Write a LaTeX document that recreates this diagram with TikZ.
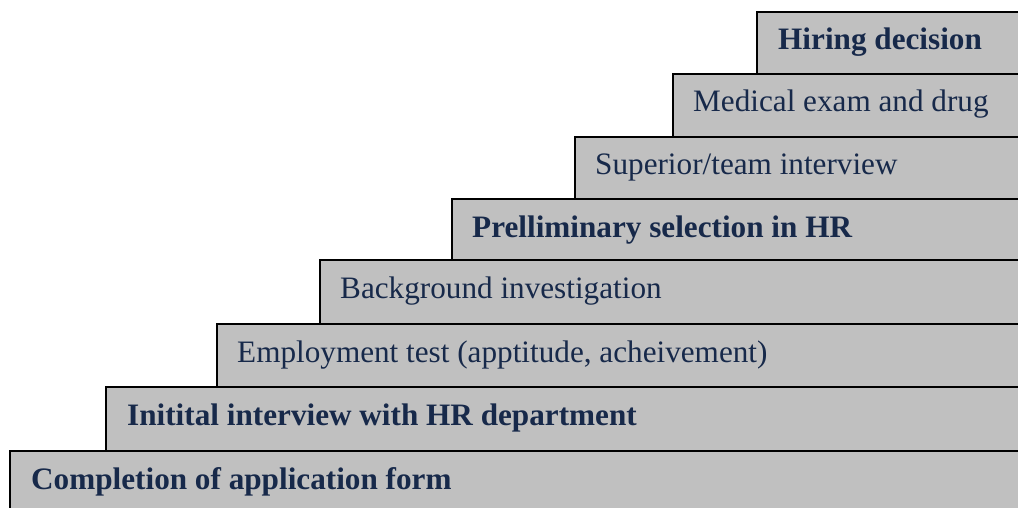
\documentclass[tikz,border=0pt]{standalone}
\usepackage{fontspec}
\setmainfont{Liberation Serif}
\definecolor{stepgray}{HTML}{C0C0C0}
\definecolor{navy}{HTML}{17294A}
\begin{document}
\begin{tikzpicture}[x=1pt,y=-1pt,
  stepbox/.style={draw=black,line width=1.5pt,fill=stepgray},
  steplabel/.style={anchor=base west,inner sep=0pt,text=navy,font=\fontsize{31.2}{36}\selectfont},
  boldlabel/.style={anchor=base west,inner sep=0pt,text=navy,font=\fontsize{31.2}{36}\selectfont\bfseries}]
\useasboundingbox (0,0) rectangle (1018,508);
\clip (0,0) rectangle (1018,508);
% boxes (left, top) to (beyond right edge, next top)
\draw[stepbox] (10,451) rectangle (1040,540);
\draw[stepbox] (106,387) rectangle (1040,451);
\draw[stepbox] (217,324) rectangle (1040,387);
\draw[stepbox] (320,260) rectangle (1040,324);
\draw[stepbox] (452,199) rectangle (1040,260);
\draw[stepbox] (575,137) rectangle (1040,199);
\draw[stepbox] (673,74) rectangle (1040,137);
\draw[stepbox] (757,12) rectangle (1040,74);
% labels
\node[boldlabel] (s1) at (31,489) {Completion of application form};
\node[boldlabel] (s2) at (127,425) {Initital interview with HR department};
\node[steplabel] (s3) at (237,362) {Employment test (apptitude, acheivement)};
\node[steplabel] (s4) at (340,298) {Background investigation};
\node[boldlabel] (s5) at (472,237) {Prelliminary selection in HR};
\node[steplabel] (s6) at (595,175) {Superior/team interview};
\node[steplabel] (s7) at (693,112) {Medical exam and drug};
\node[boldlabel] (s8) at (778,50) {Hiring decision};
\end{tikzpicture}
\end{document}
